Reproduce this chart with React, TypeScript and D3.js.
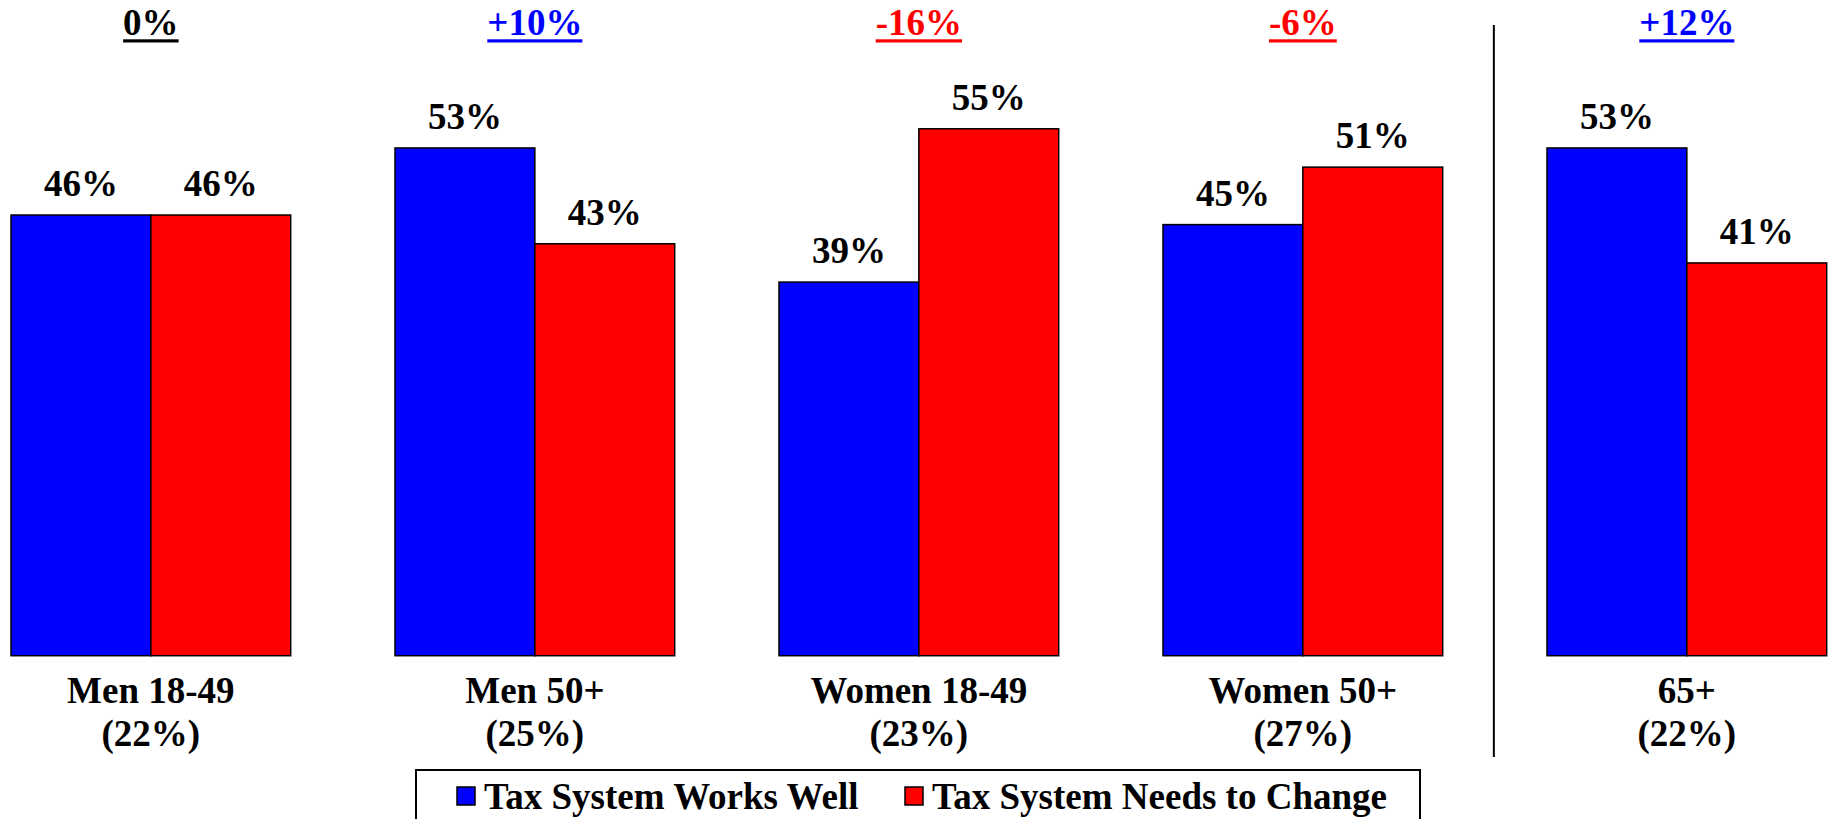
import * as d3 from "d3";
import * as React from "react";

const groups = ["Men 18-49", "Men 50+", "Women 18-49", "Women 50+", "65+"];
const shares = ["(22%)", "(25%)", "(23%)", "(27%)", "(22%)"];
const worksWell = [46, 53, 39, 45, 53];
const needsChange = [46, 43, 55, 51, 41];
const diffs = ["0%", "+10%", "-16%", "-6%", "+12%"];
const seriesNames = ["Tax System Works Well", "Tax System Needs to Change"];

const W = 1831;
const H = 819;
const FONT = "Liberation Serif, Times New Roman, Times, DejaVu Serif, serif";
const BLUE = "#0000ff";
const RED = "#ff0000";

export default function App() {
    const ref = React.useRef<SVGSVGElement>(null);

    React.useEffect(() => {
        const svg = d3.select(ref.current);
        svg.selectAll("*").remove();

        const x = d3.scaleBand<string>()
            .domain(groups)
            .range([11, 1826.7])
            .paddingInner(0.2716)
            .paddingOuter(0);
        const sub = d3.scaleBand<string>()
            .domain(["w", "n"])
            .range([0, x.bandwidth()]);
        const y = d3.scaleLinear().domain([0, 60]).range([655.7, 80.9]);

        const rows = groups.map((g, i) => ({
            g, share: shares[i], diff: diffs[i],
            vals: [{ k: "w", v: worksWell[i] }, { k: "n", v: needsChange[i] }],
        }));

        const grp = svg.append("g")
            .selectAll("g")
            .data(rows)
            .join("g")
            .attr("transform", d => `translate(${x(d.g)},0)`);

        grp.selectAll("rect")
            .data(d => d.vals)
            .join("rect")
            .attr("x", d => sub(d.k)!)
            .attr("width", sub.bandwidth())
            .attr("y", d => y(d.v))
            .attr("height", d => y(0) - y(d.v))
            .attr("fill", d => d.k === "w" ? BLUE : RED)
            .attr("stroke", "#000")
            .attr("stroke-width", 1.5);

        grp.selectAll("text.val")
            .data(d => d.vals)
            .join("text")
            .attr("class", "val")
            .attr("x", d => sub(d.k)! + sub.bandwidth() / 2)
            .attr("y", d => y(d.v) - 19)
            .attr("text-anchor", "middle")
            .style("font-size", "37px")
            .text(d => `${d.v}%`);

        grp.append("text")
            .attr("x", x.bandwidth() / 2)
            .attr("y", 703)
            .attr("text-anchor", "middle")
            .style("font-size", "37px")
            .text(d => d.g);
        grp.append("text")
            .attr("x", x.bandwidth() / 2)
            .attr("y", 746)
            .attr("text-anchor", "middle")
            .style("font-size", "37px")
            .text(d => d.share);

        // difference labels, underlined
        const diffColor = (s: string) => s.startsWith("+") ? BLUE : s.startsWith("-") ? RED : "#000";
        grp.each(function (d) {
            const g = d3.select(this);
            const t = g.append("text")
                .attr("x", x.bandwidth() / 2)
                .attr("y", 35)
                .attr("text-anchor", "middle")
                .style("font-size", "37px")
                .attr("fill", diffColor(d.diff))
                .text(d.diff);
            const len = (t.node() as SVGTextElement).getComputedTextLength();
            g.append("rect")
                .attr("x", x.bandwidth() / 2 - len / 2)
                .attr("y", 39.3)
                .attr("width", len)
                .attr("height", 3.2)
                .attr("fill", diffColor(d.diff));
        });

        // separator before 65+
        const sepX = (x("Women 50+")! + x.bandwidth() + x("65+")!) / 2 - 1;
        svg.append("line")
            .attr("x1", sepX).attr("x2", sepX)
            .attr("y1", 25).attr("y2", 757)
            .attr("stroke", "#000")
            .attr("stroke-width", 2);

        // legend
        const leg = svg.append("g");
        leg.append("rect")
            .attr("x", 416).attr("y", 770)
            .attr("width", 1004).attr("height", 80)
            .attr("fill", "#fff")
            .attr("stroke", "#000")
            .attr("stroke-width", 2);
        const items = [
            { name: seriesNames[0], color: BLUE, x: 457 },
            { name: seriesNames[1], color: RED, x: 905 },
        ];
        const li = leg.selectAll("g.item")
            .data(items)
            .join("g")
            .attr("transform", d => `translate(${d.x},787)`);
        li.append("rect")
            .attr("width", 18).attr("height", 18)
            .attr("fill", d => d.color)
            .attr("stroke", "#000")
            .attr("stroke-width", 1.5);
        li.append("text")
            .attr("x", 27)
            .attr("y", 22)
            .style("font-size", "37px")
            .text(d => d.name);
    }, []);

    return (
        <svg ref={ref} width={W} height={H}
            style={{
                position: "fixed", left: 0, top: 0, background: "#fff",
                fontFamily: FONT, fontWeight: "bold",
            }} />
    );
}
